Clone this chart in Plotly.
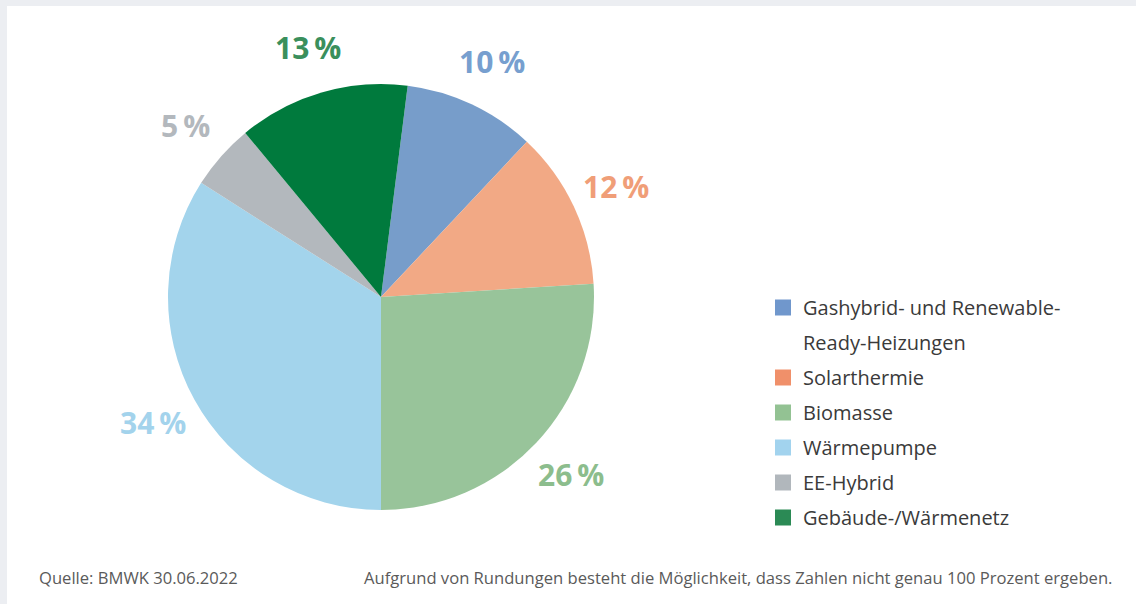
import math
import plotly.graph_objects as go

# ---- data ----
categories = [
    "Gashybrid- und Renewable-<br>Ready-Heizungen",
    "Solarthermie",
    "Biomasse",
    "Wärmepumpe",
    "EE-Hybrid",
    "Gebäude-/Wärmenetz",
]
shares = [10, 12, 26, 34, 5, 13]
label_texts = ["10\u2009%", "12\u2009%", "26\u2009%", "34\u2009%", "5\u2009%", "13\u2009%"]

slice_colors = ["#779dca", "#f2a985", "#98c49a", "#a3d4ec", "#b3b8bd", "#007a3d"]
legend_colors = ["#7097cc", "#f0906a", "#93c293", "#a2d3ee", "#b1b7bc", "#2b8a55"]
label_colors = ["#779fcf", "#f09e78", "#8cbd8d", "#a3d3ec", "#b3b8bd", "#3a8f5c"]

source_text = "Quelle: BMWK 30.06.2022"
note_text = "Aufgrund von Rundungen besteht die Möglichkeit, dass Zahlen nicht genau 100 Prozent ergeben."

# ---- layout geometry ----
W, H = 1136, 604
FONT = "Open Sans"
rotation = 7.2
cx, cy, R = 381, 297, 213  # pixel centre / radius of the pie

fig = go.Figure()

fig.add_trace(go.Pie(
    labels=categories,
    values=shares,
    sort=False,
    direction="clockwise",
    rotation=rotation,
    marker=dict(colors=slice_colors, line=dict(width=0)),
    textinfo="none",
    hoverinfo="label+percent",
    showlegend=False,
    domain=dict(x=[(cx - R) / W, (cx + R) / W],
                y=[(H - cy - R) / H, (H - cy + R) / H]),
))

# legend entries (wrapped names continue as marker-less rows)
g = 0
for name, col in zip(categories, legend_colors):
    lines = name.split("<br>")
    for j, line in enumerate(lines):
        fig.add_trace(go.Scatter(
            x=[None], y=[None], mode="markers", name=line,
            legendgroup=f"g{g}",
            marker=dict(symbol="square", size=17,
                        color=col if j == 0 else "rgba(0,0,0,0)"),
            hoverinfo="skip",
        ))
        g += 1

# percentage labels placed outside slices at their mid-angles (from data)
annotations = []
total = sum(shares)
cum = 0
label_r = 260
for v, t, c in zip(shares, label_texts, label_colors):
    mid = rotation + (cum + v / 2) / total * 360
    cum += v
    th = math.radians(mid)
    px = cx + label_r * math.sin(th)
    py = (H - cy) + label_r * math.cos(th)
    annotations.append(dict(
        x=px / W, y=py / H, xref="paper", yref="paper",
        text=f"<b>{t}</b>", showarrow=False,
        font=dict(family=FONT, size=30, color=c),
        xanchor="center", yanchor="middle",
    ))

annotations.append(dict(
    x=37 / W, y=(H - 577) / H, xref="paper", yref="paper",
    text=source_text, showarrow=False, xanchor="left", yanchor="middle",
    font=dict(family=FONT, size=16.6, color="#5a5a5a"),
))
annotations.append(dict(
    x=1114 / W, y=(H - 577) / H, xref="paper", yref="paper",
    text=note_text, showarrow=False, xanchor="right", yanchor="middle",
    font=dict(family=FONT, size=16.6, color="#5a5a5a"),
))

fig.update_layout(
    width=W, height=H,
    margin=dict(l=0, r=0, t=0, b=0),
    paper_bgcolor="#eceef2",
    plot_bgcolor="rgba(0,0,0,0)",
    xaxis=dict(visible=False),
    yaxis=dict(visible=False),
    shapes=[dict(type="rect", xref="paper", yref="paper",
                 x0=7 / W, x1=1.01, y0=-0.01, y1=1 - 6 / H,
                 fillcolor="white", line=dict(width=0), layer="below")],
    annotations=annotations,
    legend=dict(
        x=763 / W, y=1 - 288 / H, xanchor="left", yanchor="top",
        font=dict(family=FONT, size=20, color="#3a3a3a"),
        tracegroupgap=6, traceorder="grouped",
        bgcolor="rgba(0,0,0,0)",
    ),
    font=dict(family=FONT),
)

fig.write_html(
    "out.html",
    config={"displayModeBar": False},
    post_script="document.body.style.margin='0';document.body.style.overflow='hidden';",
)
